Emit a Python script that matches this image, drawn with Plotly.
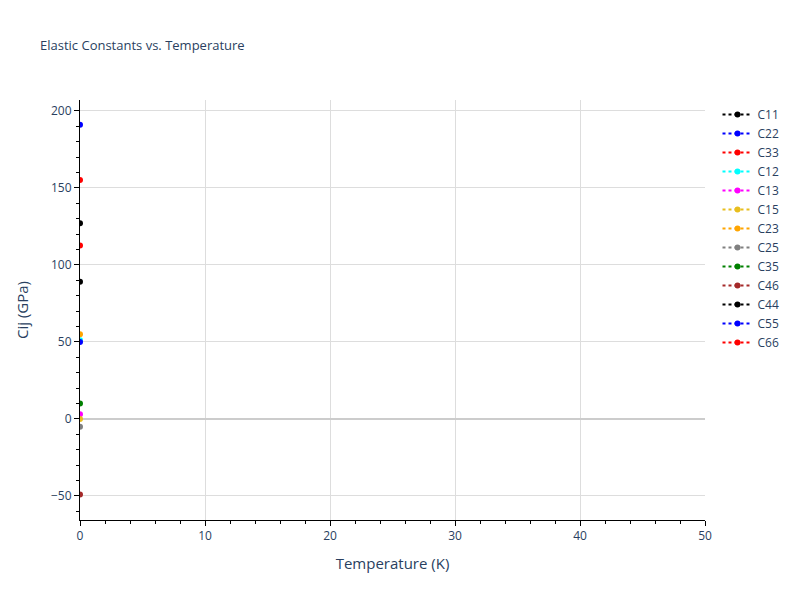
import plotly.graph_objects as go

names = ["C11", "C22", "C33", "C12", "C13", "C15", "C23", "C25", "C35", "C46", "C44", "C55", "C66"]
colors = ["black", "blue", "red", "cyan", "magenta", "#e8be1e", "orange", "gray", "green", "brown", "black", "blue", "red"]
temperature = [0]
values = [127, 191, 155, 51, 3, 0, 55, -5, 10, -49, 89, 50, 112.5]

fig = go.Figure()
for n, c, v in zip(names, colors, values):
    fig.add_trace(go.Scatter(x=temperature, y=[v], name=n, mode="lines+markers",
                             line=dict(color=c, dash="dot"), marker=dict(color=c, size=6)))

axis_common = dict(showline=True, linecolor="black", linewidth=1, ticks="outside",
                   tickcolor="black", showgrid=True, gridcolor="#dddddd",
                   zeroline=True, zerolinecolor="#cccccc", zerolinewidth=2)
fig.update_layout(
    template="plotly_white",
    width=800, height=600,
    title=dict(text="Elastic Constants vs. Temperature", x=0.04, y=0.945, font=dict(size=13)),
    xaxis=dict(title=dict(text="Temperature (K)", font=dict(size=15)), range=[0, 50], dtick=10,
               minor=dict(ticks="outside", dtick=2, tickcolor="black", showgrid=False), **axis_common),
    yaxis=dict(title=dict(text="Cij (GPa)", font=dict(size=15), standoff=18), range=[-65.6, 207], dtick=50,
               minor=dict(ticks="outside", dtick=10, tickcolor="black", showgrid=False), **axis_common),
    margin=dict(l=72, r=103, t=92, b=88, autoexpand=False),
    legend=dict(x=1.02, y=1, font=dict(size=12)),
)
fig.write_html("out.html")
